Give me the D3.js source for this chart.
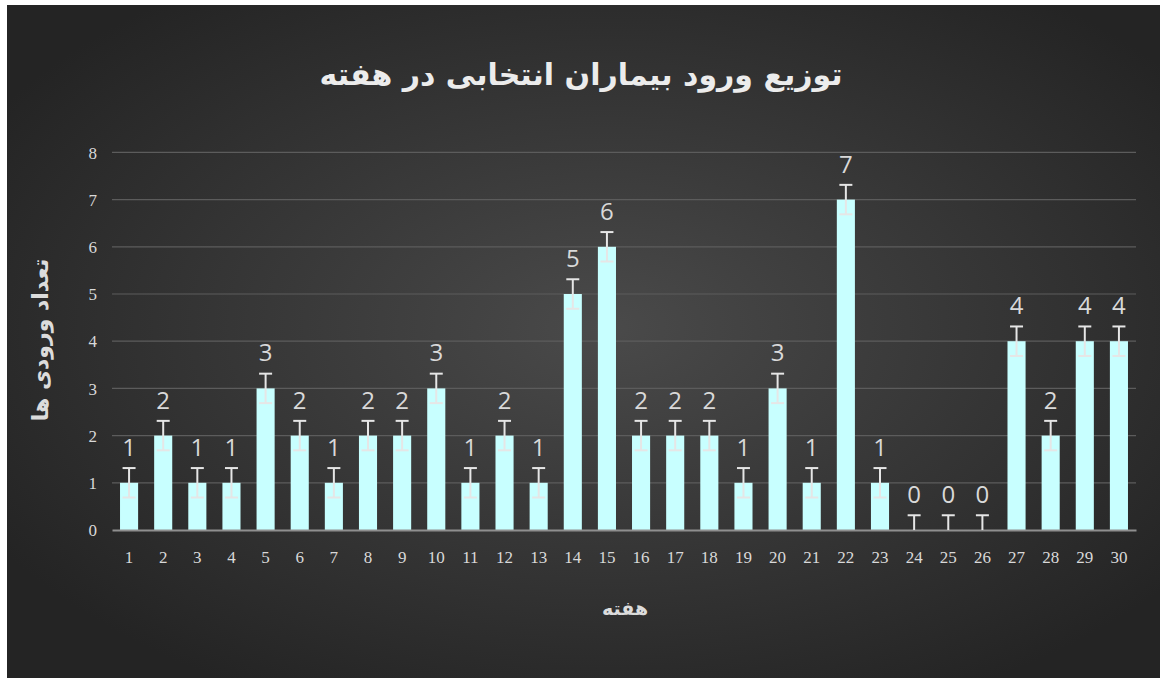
<!DOCTYPE html>
<html>
<head>
<meta charset="utf-8">
<script src="https://cdn.jsdelivr.net/npm/d3@7"></script>
<style>
  html, body { margin: 0; padding: 0; background: #ffffff; }
  svg { display: block; }
</style>
</head>
<body>
<svg id="chart" width="1160" height="678"></svg>
<script>
// ---- data ----
const titleText = "توزیع ورود بیماران انتخابی در هفته";
const xTitle = "هفته";
const yTitle = "تعداد ورودی ها";
const weeks = ["1","2","3","4","5","6","7","8","9","10","11","12","13","14","15","16","17","18","19","20","21","22","23","24","25","26","27","28","29","30"];
const admissions = [1,2,1,1,3,2,1,2,2,3,1,2,1,5,6,2,2,2,1,3,1,7,1,0,0,0,4,2,4,4];
const yTicks = [0,1,2,3,4,5,6,7,8];

// standard error (Excel "Standard Error" error bars)
const stdErr = d3.deviation(admissions) / Math.sqrt(admissions.length);

const svg = d3.select("#chart");
const W = 1160, H = 678;

// background
const defs = svg.append("defs");
const rg = defs.append("radialGradient").attr("id", "bg")
  .attr("cx", "52%").attr("cy", "48%").attr("r", "62%");
rg.append("stop").attr("offset", "0%").attr("stop-color", "#4a4a4a");
rg.append("stop").attr("offset", "100%").attr("stop-color", "#242424");
svg.append("rect").attr("x", 7).attr("y", 5).attr("width", W - 7).attr("height", H - 5)
  .attr("fill", "url(#bg)");

// scales
const x = d3.scaleBand().domain(weeks).range([112, 1136]).paddingInner(0.47).paddingOuter(0.235);
const y = d3.scaleLinear().domain([0, 8]).range([530, 152.4]);

// gridlines
svg.append("g").selectAll("line").data(yTicks.filter(d => d > 0)).join("line")
  .attr("x1", 112).attr("x2", 1136)
  .attr("y1", d => y(d)).attr("y2", d => y(d))
  .attr("stroke", "#5c5c5c").attr("stroke-width", 1.2);

// y axis labels
const yAxis = d3.axisLeft(y).tickValues(yTicks).tickSize(0).tickPadding(0).tickFormat(d3.format("d"));
const gy = svg.append("g").attr("transform", "translate(97,0)").call(yAxis);
gy.select(".domain").remove();
gy.selectAll("text").attr("fill", "#d9d9d9").attr("font-family", "'Liberation Serif', serif")
  .attr("font-size", 17).attr("dy", "0.33em");

// bars
svg.append("g").selectAll("rect").data(admissions).join("rect")
  .attr("x", (d, i) => x(weeks[i]))
  .attr("width", x.bandwidth())
  .attr("y", d => y(d))
  .attr("height", d => y(0) - y(d))
  .attr("fill", "#c8ffff");

// axis line
const xAxis = d3.axisBottom(x).tickSize(0).tickPadding(0);
const gx = svg.append("g").attr("transform", "translate(0,530)").call(xAxis);
gx.select(".domain").attr("stroke", "#8f8f8f").attr("stroke-width", 2.2);
gx.selectAll("text").attr("fill", "#d9d9d9").attr("font-family", "'Liberation Serif', serif")
  .attr("font-size", 17).attr("dy", "0").attr("y", 33);

// error bars
const eb = svg.append("g").attr("stroke", "#e6e6e6").attr("stroke-width", 2).attr("fill", "none");
admissions.forEach((v, i) => {
  const cx = x(weeks[i]) + x.bandwidth() / 2;
  const top = v + stdErr;
  const low = Math.max(0, v - stdErr);
  eb.append("line").attr("x1", cx).attr("x2", cx).attr("y1", y(top)).attr("y2", y(low));
  eb.append("line").attr("x1", cx - 6.5).attr("x2", cx + 6.5).attr("y1", y(top)).attr("y2", y(top));
  if (v - stdErr > 0) {
    eb.append("line").attr("x1", cx - 6.5).attr("x2", cx + 6.5).attr("y1", y(low)).attr("y2", y(low));
  }
});

// data labels
svg.append("g").selectAll("text").data(admissions).join("text")
  .attr("x", (d, i) => x(weeks[i]) + x.bandwidth() / 2)
  .attr("y", d => y(d) - 27)
  .attr("text-anchor", "middle")
  .attr("fill", "#d9d9d9")
  .attr("font-family", "'Open Sans', 'Noto Sans', sans-serif")
  .attr("font-size", 24)
  .text(d => d);

// title
svg.append("text").attr("x", 581).attr("y", 85).attr("text-anchor", "middle")
  .attr("fill", "#ececec").attr("font-family", "'DejaVu Sans', sans-serif")
  .attr("font-weight", "bold").attr("font-size", 30).attr("direction", "rtl")
  .text(titleText);

// axis titles
svg.append("text").attr("x", 625).attr("y", 615).attr("text-anchor", "middle")
  .attr("fill", "#dcdcdc").attr("font-family", "'DejaVu Sans', sans-serif")
  .attr("font-weight", "bold").attr("font-size", 19).attr("direction", "rtl")
  .text(xTitle);

svg.append("text").attr("transform", "translate(48,340) rotate(-90)").attr("text-anchor", "middle")
  .attr("fill", "#dcdcdc").attr("font-family", "'DejaVu Sans', sans-serif")
  .attr("font-weight", "bold").attr("font-size", 22).attr("direction", "rtl")
  .text(yTitle);
</script>
</body>
</html>
